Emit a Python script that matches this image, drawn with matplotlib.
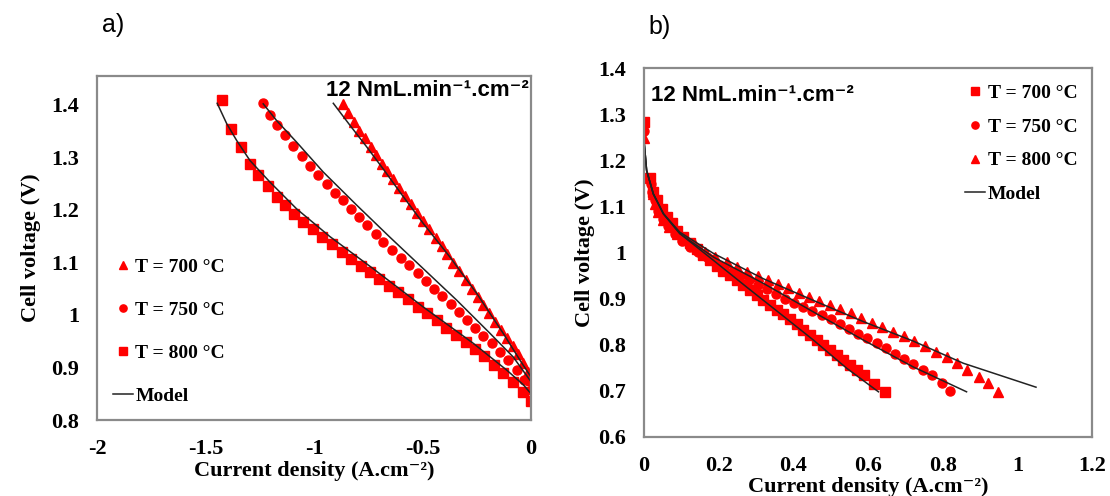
import matplotlib
matplotlib.use("Agg")
import matplotlib.pyplot as plt
from matplotlib.ticker import FuncFormatter

plt.rcParams['axes.unicode_minus'] = False
SERIF = ['Liberation Serif', 'DejaVu Serif']
SANS = ['Liberation Sans', 'DejaVu Sans']
RED = '#ff0000'

# ---- panel a) electrolysis, negative current ----
a_x700 = [-0.865, -0.842, -0.816, -0.791, -0.765, -0.739, -0.714, -0.688, -0.662, -0.635, -0.607, -0.581,
          -0.553, -0.524, -0.496, -0.469, -0.439, -0.412, -0.386, -0.358, -0.330, -0.301, -0.273, -0.246,
          -0.220, -0.192, -0.166, -0.138, -0.112, -0.084, -0.058, -0.035, -0.012, 0.0]
a_v700 = [1.401, 1.384, 1.367, 1.351, 1.336, 1.320, 1.304, 1.288, 1.274, 1.258, 1.242, 1.226,
          1.211, 1.195, 1.179, 1.163, 1.147, 1.131, 1.116, 1.099, 1.083, 1.066, 1.050, 1.034,
          1.019, 1.003, 0.987, 0.971, 0.957, 0.941, 0.925, 0.908, 0.892, 0.876]
a_x750 = [-1.235, -1.203, -1.169, -1.134, -1.095, -1.057, -1.018, -0.980, -0.941, -0.903, -0.868, -0.829,
          -0.791, -0.754, -0.716, -0.681, -0.639, -0.600, -0.561, -0.522, -0.484, -0.447, -0.409, -0.370,
          -0.332, -0.293, -0.258, -0.220, -0.181, -0.143, -0.105, -0.066, -0.032, 0.0]
a_v750 = [1.403, 1.381, 1.362, 1.342, 1.321, 1.302, 1.283, 1.266, 1.250, 1.233, 1.218, 1.202,
          1.187, 1.171, 1.155, 1.139, 1.124, 1.109, 1.095, 1.080, 1.064, 1.050, 1.036, 1.021,
          1.006, 0.991, 0.976, 0.960, 0.946, 0.930, 0.914, 0.895, 0.876, 0.858]
a_x800 = [-1.423, -1.382, -1.338, -1.295, -1.257, -1.213, -1.172, -1.134, -1.092, -1.049, -1.006, -0.962,
          -0.918, -0.872, -0.829, -0.785, -0.742, -0.699, -0.654, -0.611, -0.568, -0.522, -0.481, -0.435,
          -0.392, -0.347, -0.301, -0.258, -0.215, -0.171, -0.128, -0.082, -0.038, 0.0]
a_v800 = [1.410, 1.355, 1.320, 1.287, 1.267, 1.245, 1.225, 1.209, 1.193, 1.177, 1.163, 1.149,
          1.135, 1.120, 1.106, 1.093, 1.081, 1.068, 1.055, 1.043, 1.030, 1.015, 1.003, 0.990,
          0.975, 0.962, 0.949, 0.936, 0.922, 0.905, 0.890, 0.873, 0.854, 0.837]

a_mx700 = [-0.911, -0.834, -0.757, -0.681, -0.604, -0.496, -0.373, -0.250, -0.128, -0.051, 0.0]
a_mv700 = [1.403, 1.361, 1.320, 1.278, 1.234, 1.174, 1.110, 1.041, 0.965, 0.914, 0.882]
a_mx750 = [-1.234, -1.172, -1.080, -0.957, -0.803, -0.650, -0.496, -0.342, -0.189, -0.082, 0.0]
a_mv750 = [1.402, 1.370, 1.329, 1.272, 1.209, 1.148, 1.088, 1.028, 0.965, 0.920, 0.873]
a_mx800 = [-1.446, -1.402, -1.356, -1.295, -1.203, -1.080, -0.926, -0.727, -0.496, -0.266, -0.112, -0.035, 0.0]
a_mv800 = [1.403, 1.364, 1.332, 1.294, 1.253, 1.202, 1.149, 1.088, 1.015, 0.946, 0.895, 0.867, 0.850]

# ---- panel b) fuel cell, positive current ----
b_x700 = [0.0, 0.016, 0.025, 0.034, 0.047, 0.061, 0.074, 0.088, 0.105, 0.123, 0.141, 0.159, 0.177,
          0.195, 0.212, 0.230, 0.248, 0.266, 0.284, 0.302, 0.320, 0.338, 0.355, 0.373, 0.391, 0.409,
          0.427, 0.445, 0.463, 0.480, 0.498, 0.516, 0.534, 0.552, 0.570, 0.588, 0.617, 0.646]
b_v700 = [1.282, 1.162, 1.131, 1.113, 1.095, 1.078, 1.063, 1.047, 1.034, 1.021, 1.008, 0.994, 0.983,
          0.971, 0.960, 0.951, 0.940, 0.929, 0.918, 0.907, 0.897, 0.886, 0.875, 0.866, 0.855, 0.844,
          0.833, 0.822, 0.810, 0.799, 0.788, 0.777, 0.767, 0.756, 0.745, 0.734, 0.715, 0.698]
b_x750 = [0.0, 0.019, 0.021, 0.029, 0.038, 0.052, 0.065, 0.083, 0.101, 0.123, 0.145, 0.168, 0.190,
          0.212, 0.235, 0.257, 0.282, 0.306, 0.329, 0.354, 0.378, 0.403, 0.427, 0.451, 0.476, 0.500,
          0.525, 0.549, 0.574, 0.598, 0.623, 0.648, 0.672, 0.697, 0.721, 0.746, 0.771, 0.797, 0.820]
b_v750 = [1.263, 1.149, 1.131, 1.113, 1.091, 1.073, 1.057, 1.041, 1.026, 1.013, 1.001, 0.990, 0.979,
          0.969, 0.958, 0.948, 0.940, 0.929, 0.920, 0.911, 0.900, 0.891, 0.882, 0.873, 0.864, 0.855,
          0.845, 0.835, 0.824, 0.814, 0.803, 0.792, 0.780, 0.769, 0.758, 0.745, 0.734, 0.716, 0.700]
b_x800 = [0.0, 0.023, 0.029, 0.038, 0.052, 0.068, 0.088, 0.110, 0.137, 0.163, 0.190, 0.222, 0.248,
          0.275, 0.305, 0.331, 0.360, 0.387, 0.415, 0.443, 0.470, 0.498, 0.525, 0.554, 0.581, 0.610,
          0.638, 0.668, 0.697, 0.724, 0.753, 0.782, 0.811, 0.838, 0.866, 0.896, 0.922, 0.949]
b_v800 = [1.249, 1.127, 1.106, 1.088, 1.071, 1.055, 1.041, 1.028, 1.016, 1.001, 0.990, 0.979, 0.969,
          0.958, 0.949, 0.940, 0.931, 0.922, 0.912, 0.904, 0.895, 0.886, 0.877, 0.868, 0.859, 0.848,
          0.839, 0.828, 0.818, 0.808, 0.797, 0.785, 0.773, 0.760, 0.745, 0.731, 0.716, 0.698]

b_mx700 = [0.0, 0.0, 0.007, 0.025, 0.052, 0.096, 0.186, 0.275, 0.364, 0.454, 0.543, 0.628]
b_mv700 = [1.275, 1.243, 1.178, 1.127, 1.084, 1.041, 0.983, 0.925, 0.868, 0.810, 0.749, 0.698]
b_mx750 = [0.0, 0.0, 0.007, 0.025, 0.052, 0.096, 0.186, 0.320, 0.454, 0.588, 0.721, 0.864]
b_mv750 = [1.275, 1.243, 1.178, 1.127, 1.084, 1.041, 0.990, 0.933, 0.871, 0.810, 0.752, 0.698]
b_mx800 = [0.0, 0.0, 0.007, 0.025, 0.052, 0.096, 0.186, 0.320, 0.454, 0.588, 0.721, 0.855, 1.050]
b_mv800 = [1.275, 1.243, 1.178, 1.127, 1.084, 1.044, 0.998, 0.943, 0.896, 0.850, 0.808, 0.760, 0.708]

a_xticks = [-2, -1.5, -1, -0.5, 0]
a_yticks = [0.8, 0.9, 1.0, 1.1, 1.2, 1.3, 1.4]
b_xticks = [0, 0.2, 0.4, 0.6, 0.8, 1.0, 1.2]
b_yticks = [0.6, 0.7, 0.8, 0.9, 1.0, 1.1, 1.2, 1.3, 1.4]

flow_text = '12 NmL.min\u207b\u00b9.cm\u207b\u00b2'
xlab = 'Current density (A.cm\u207b\u00b2)'
ylab = 'Cell voltage (V)'

fig = plt.figure(figsize=(11.1, 4.96), dpi=100)
ax1 = fig.add_axes([97 / 1110, 1 - 420 / 496, 434 / 1110, 344 / 496])
ax2 = fig.add_axes([644 / 1110, 1 - 437 / 496, 448 / 1110, 369 / 496])

fmt = FuncFormatter(lambda v, p: f'{v:g}')


def style_axes(ax):
    for s in ax.spines.values():
        s.set_color('#8a8a8a')
        s.set_linewidth(1.6)
    ax.tick_params(length=0, pad=13)
    ax.tick_params(axis='x', pad=14)
    ax.xaxis.set_major_formatter(fmt)
    ax.yaxis.set_major_formatter(fmt)
    for lab in ax.get_xticklabels() + ax.get_yticklabels():
        lab.set_family(SERIF)
        lab.set_fontweight('bold')
        lab.set_fontsize(16)


mk = dict(color=RED, linestyle='none')
model = dict(color='#222222', lw=1.1)
leg_kw = dict(loc='upper left', frameon=False, borderpad=0, borderaxespad=0, handlelength=1.0,
              handletextpad=0.15, markerscale=0.8, prop={'family': SERIF, 'weight': 'bold', 'size': 14})

# panel a
ax1.plot(a_x700, a_v700, marker='^', ms=7, label='T = 700 °C', **mk)
ax1.plot(a_x750, a_v750, marker='o', ms=6.5, label='T = 750 °C', **mk)
ax1.plot(a_x800, a_v800, marker='s', ms=6.5, label='T = 800 °C', **mk)
ax1.plot(a_mx700, a_mv700, label='Model', **model)
ax1.plot(a_mx750, a_mv750, **model)
ax1.plot(a_mx800, a_mv800, **model)
ax1.set_xlim(-2, 0)
ax1.set_ylim(0.8, 1.455)
ax1.set_xticks(a_xticks)
ax1.set_yticks(a_yticks)
style_axes(ax1)
ax1.set_xlabel(xlab, family=SERIF, fontweight='bold', fontsize=16)
ax1.set_ylabel(ylab, family=SERIF, fontweight='bold', fontsize=16)
ax1.xaxis.set_label_coords(0.5, -0.12)
ax1.yaxis.set_label_coords(-0.129, 0.5)
ax1.text(0.995, 0.958, flow_text, transform=ax1.transAxes, ha='right', va='center',
         family=SANS, fontweight='bold', fontsize=16)
ax1.legend(bbox_to_anchor=(0.037, 0.47), labelspacing=1.3, **leg_kw)

# panel b
ax2.plot(b_x700, b_v700, marker='s', ms=6.5, label='T = 700 °C', **mk)
ax2.plot(b_x750, b_v750, marker='o', ms=6.5, label='T = 750 °C', **mk)
ax2.plot(b_x800, b_v800, marker='^', ms=7, label='T = 800 °C', **mk)
ax2.plot(b_mx700, b_mv700, label='Model', **model)
ax2.plot(b_mx750, b_mv750, **model)
ax2.plot(b_mx800, b_mv800, **model)
ax2.set_xlim(0, 1.2)
ax2.set_ylim(0.6, 1.4)
ax2.set_xticks(b_xticks)
ax2.set_yticks(b_yticks)
style_axes(ax2)
ax2.set_xlabel(xlab, family=SERIF, fontweight='bold', fontsize=16)
ax2.set_ylabel(ylab, family=SERIF, fontweight='bold', fontsize=16)
ax2.xaxis.set_label_coords(0.5, -0.108)
ax2.yaxis.set_label_coords(-0.11, 0.5)
ax2.text(0.015, 0.926, flow_text, transform=ax2.transAxes, ha='left', va='center',
         family=SANS, fontweight='bold', fontsize=16)
ax2.legend(bbox_to_anchor=(0.717, 0.955), labelspacing=0.82, **leg_kw)

fig.text(113 / 1110, 1 - 25 / 496, 'a)', ha='center', va='center', family=SANS, fontsize=18)
fig.text(660 / 1110, 1 - 27 / 496, 'b)', ha='center', va='center', family=SANS, fontsize=18)

plt.savefig('out.png', dpi=100)
plt.close()
